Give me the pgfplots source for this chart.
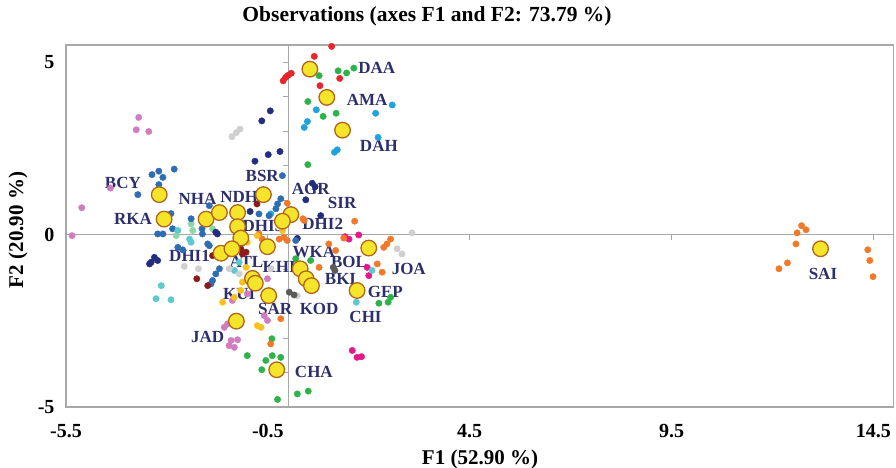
\documentclass[border=0pt]{standalone}
\usepackage{pgfplots}
\pgfplotsset{compat=1.18}
\usepackage{fontspec}
\setmainfont{Liberation Serif}
\definecolor{cRed}{HTML}{E8262A}
\definecolor{cGreen}{HTML}{2DB34A}
\definecolor{cLGreen}{HTML}{8ED6A6}
\definecolor{cSky}{HTML}{1FA3DC}
\definecolor{cNavy}{HTML}{232C7D}
\definecolor{cSteel}{HTML}{2E6DB4}
\definecolor{cOrchid}{HTML}{D07CC0}
\definecolor{cMag}{HTML}{E5178A}
\definecolor{cCyan}{HTML}{5CC8D0}
\definecolor{cLGray}{HTML}{CFCFCF}
\definecolor{cDGray}{HTML}{5A5A5A}
\definecolor{cMaroon}{HTML}{8B1C1C}
\definecolor{cOrange}{HTML}{F07A2A}
\definecolor{cGold}{HTML}{F7C21B}
\definecolor{cYel}{HTML}{F5E52A}
\definecolor{cBrown}{HTML}{B0651A}
\definecolor{cLab}{HTML}{2D2F6B}
\definecolor{cFrame}{HTML}{A8A8A8}
\begin{document}
\begin{tikzpicture}
\useasboundingbox (-66pt,-61pt) rectangle (830pt,407pt);
% zero lines with their small ticks
\begin{axis}[at={(0,0)}, anchor=south west, scale only axis,
  width=827.6pt, height=362pt, xmin=-5.5, xmax=15, ymin=-5, ymax=5.5,
  axis lines=middle, axis line style={-, draw=cFrame, line width=1pt},
  xtick={-5.5,-0.5,4.5,9.5,14.5}, ytick={-5,-4,...,5},
  xticklabels={}, yticklabels={},
  tick style={draw=cFrame, line width=0.8pt}, major tick length=5pt, tick align=outside]
\end{axis}
\begin{axis}[at={(0,0)}, anchor=south west, scale only axis,
  width=827.6pt, height=362pt, xmin=-5.5, xmax=15, ymin=-5, ymax=5.5,
  axis line style={draw=cFrame, line width=1.2pt},
  xtick={-5.5,-0.5,4.5,9.5,14.5}, xticklabels={-5.5,-0.5,4.5,9.5,14.5},
  ytick={-5,0,5}, yticklabels={-5,0,5},
  tick style={draw=none}, major tick length=0pt,
  xticklabel style={font=\bfseries\fontsize{20}{20}\selectfont, yshift=-14pt},
  yticklabel style={font=\bfseries\fontsize{20}{20}\selectfont, xshift=-8pt},
  clip=false]
% red
\addplot[only marks, mark=*, mark size=3.2pt, cRed] table {
x y
1.08 5.46
0.65 5.17
0.08 4.68
0.00 4.62
-0.06 4.56
-0.12 4.46
0.79 4.32
1.28 4.53
};
% green
\addplot[only marks, mark=*, mark size=3.2pt, cGreen] table {
x y
0.77 4.61
1.24 4.75
1.45 4.69
1.63 4.83
0.49 3.86
0.87 3.43
1.19 3.52
0.49 2.03
0.19 -0.70
0.56 -0.75
2.25 -1.99
2.48 -1.96
2.54 -1.82
-1.01 -3.51
-0.55 -3.65
-0.39 -3.51
-0.18 -3.56
-0.65 -3.92
-0.40 -3.02
-0.26 -4.78
0.23 -4.62
0.50 -4.54
};
% pale green
\addplot[only marks, mark=*, mark size=3.2pt, cLGreen] table {
x y
-2.40 0.31
-2.36 0.12
-1.87 0.17
-2.77 -0.03
};
% sky blue
\addplot[only marks, mark=*, mark size=3.2pt, cSky] table {
x y
0.70 3.62
0.48 3.28
0.40 3.11
2.17 3.52
2.58 3.76
2.23 2.82
1.22 2.46
1.15 2.39
-0.43 0.60
};
% navy
\addplot[only marks, mark=*, mark size=3.2pt, cNavy] table {
x y
-0.44 3.59
-0.65 3.30
-0.20 2.41
-0.49 2.32
-0.82 2.13
0.60 1.49
0.67 1.39
0.44 1.01
0.81 0.55
-0.94 0.67
-1.79 0.07
-1.75 0.02
0.23 -0.11
-3.39 -0.80
-3.31 -0.66
-3.23 -0.75
-3.43 -0.85
};
% steel blue
\addplot[only marks, mark=*, mark size=3.2pt, cSteel] table {
x y
-3.37 1.74
-3.20 1.84
-3.10 1.66
-2.82 1.90
-3.72 1.16
-3.20 1.45
-2.90 0.61
-3.23 0.02
-3.10 0.02
-2.86 0.17
-2.73 -0.37
-2.61 -0.44
-2.40 0.46
-2.13 0.17
-2.12 0.02
-1.95 -0.32
-1.99 -0.27
-1.70 -0.99
-1.79 -1.14
-1.87 -1.33
-1.91 -1.43
-0.14 1.71
-0.72 0.60
-0.26 0.89
-0.30 0.75
-1.95 0.84
-0.18 1.04
0.19 -0.17
-0.47 0.55
};
% orchid
\addplot[only marks, mark=*, mark size=3.2pt, cOrchid] table {
x y
-3.70 3.40
-3.76 3.04
-3.45 2.99
-4.40 1.35
-5.11 0.78
-5.35 -0.03
-0.51 -1.28
-1.38 -1.91
-1.01 -1.72
-0.59 -2.35
-0.51 -2.49
-1.58 -2.69
-1.50 -2.59
-1.46 -3.22
-1.33 -3.27
-1.25 -3.05
-1.41 -3.07
};
% magenta
\addplot[only marks, mark=*, mark size=3.2pt, cMag] table {
x y
1.51 -0.13
1.75 -0.01
1.41 -0.06
1.96 -0.95
2.00 -1.19
1.59 -3.36
1.71 -3.56
1.82 -3.54
};
% cyan
\addplot[only marks, mark=*, mark size=3.2pt, cCyan] table {
x y
2.08 -1.04
1.69 -1.96
-3.14 -1.48
-3.27 -1.86
-2.90 -1.89
-2.40 -0.22
-1.21 -0.80
-1.33 -1.04
-2.73 0.12
-2.44 -0.13
};
% light gray
\addplot[only marks, mark=*, mark size=3.2pt, cLGray] table {
x y
-1.39 2.84
-1.28 2.96
-1.19 3.06
-2.57 -0.92
-2.22 -0.99
-1.46 -0.99
-1.21 -1.14
0.23 -1.77
2.70 -0.41
2.82 -0.56
3.07 0.05
-0.42 -0.99
};
% dark gray
\addplot[only marks, mark=*, mark size=3.2pt, cDGray] table {
x y
1.16 -1.04
1.12 -0.95
0.03 -1.67
0.15 -1.75
};
% maroon
\addplot[only marks, mark=*, mark size=3.2pt, cMaroon] table {
x y
-0.77 0.89
-2.26 -1.28
-1.99 -1.48
-1.17 -0.41
-1.04 -0.51
-1.13 -0.56
-1.87 -0.61
};
% orange
\addplot[only marks, mark=*, mark size=3.2pt, cOrange] table {
x y
0.37 0.46
-0.02 0.91
1.65 0.39
0.40 0.41
1.38 -0.10
1.01 -0.27
0.77 -0.95
1.18 -0.46
2.21 -0.85
2.33 -1.09
2.37 -0.37
2.45 -0.27
2.54 -0.13
-0.18 -2.44
-0.43 -3.17
-0.72 0.02
-0.64 -0.13
-0.22 -0.13
-0.02 -0.17
-0.10 -0.08
12.72 0.26
12.83 0.14
12.61 0.05
12.58 -0.27
12.37 -0.82
12.16 -0.99
14.36 -0.44
14.41 -0.75
14.49 -1.22
};
% gold
\addplot[only marks, mark=*, mark size=3.2pt, cGold] table {
x y
-0.14 0.12
-0.76 -0.03
-1.04 -0.95
-1.13 -1.38
-1.62 -1.96
-1.33 -1.82
-0.76 -2.64
-0.67 -2.69
-1.01 -0.22
-1.17 -1.62
};
% centroids
\addplot[only marks, mark=*, mark size=7.8pt, mark options={fill=cYel, draw=cBrown, line width=1.3pt}] table {
x y
0.54 4.80
0.96 3.98
1.35 3.03
-3.19 1.16
-3.07 0.45
-2.03 0.45
-1.70 0.64
-1.25 0.64
-0.61 1.16
-1.25 0.23
-1.17 -0.10
0.07 0.58
-0.14 0.39
-0.51 -0.35
-1.66 -0.54
-1.39 -0.41
-0.88 -1.27
-0.81 -1.41
-0.48 -1.77
-1.28 -2.51
-0.28 -3.92
0.30 -0.99
0.45 -1.28
0.58 -1.48
2.00 -0.39
1.71 -1.62
13.19 -0.41
};
% labels
\begin{scope}[every node/.style={font=\bfseries\fontsize{17}{17}\selectfont, text=cLab, inner sep=0pt}]
\node at (axis cs:2.20,4.84) {DAA};
\node at (axis cs:1.96,3.90) {AMA};
\node at (axis cs:2.25,2.58) {DAH};
\node at (axis cs:-4.09,1.49) {BCY};
\node at (axis cs:-3.84,0.46) {RKA};
\node at (axis cs:-0.64,1.71) {BSR};
\node at (axis cs:0.56,1.33) {AGR};
\node at (axis cs:1.34,0.91) {SIR};
\node at (axis cs:-2.24,1.04) {NHA};
\node at (axis cs:-1.21,1.08) {NDH};
\node at (axis cs:-0.62,0.26) {DHI3};
\node at (axis cs:0.86,0.32) {DHI2};
\node at (axis cs:-2.44,-0.61) {DHI1};
\node at (axis cs:0.64,-0.51) {WKA};
\node at (axis cs:-1.03,-0.78) {ATL};
\node at (axis cs:-0.22,-0.94) {KHI};
\node at (axis cs:1.51,-0.80) {BOL};
\node at (axis cs:2.99,-0.99) {JOA};
\node at (axis cs:1.30,-1.28) {BKI};
\node at (axis cs:-1.21,-1.72) {KUI};
\node at (axis cs:2.41,-1.67) {GEP};
\node at (axis cs:-0.32,-2.15) {SAR};
\node at (axis cs:0.77,-2.15) {KOD};
\node at (axis cs:1.92,-2.40) {CHI};
\node at (axis cs:-1.99,-2.98) {JAD};
\node at (axis cs:0.64,-3.99) {CHA};
\node at (axis cs:13.25,-1.14) {SAI};
\end{scope}
\end{axis}
\node[font=\bfseries\fontsize{21.5}{21.5}\selectfont] at (361pt,391pt) {Observations (axes F1 and F2: 73.79 \%)};
\node[font=\bfseries\fontsize{21}{21}\selectfont] at (414pt,-52pt) {F1 (52.90 \%)};
\node[font=\bfseries\fontsize{21}{21}\selectfont, rotate=90] at (-48pt,177pt) {F2 (20.90 \%)};
\end{tikzpicture}
\end{document}
